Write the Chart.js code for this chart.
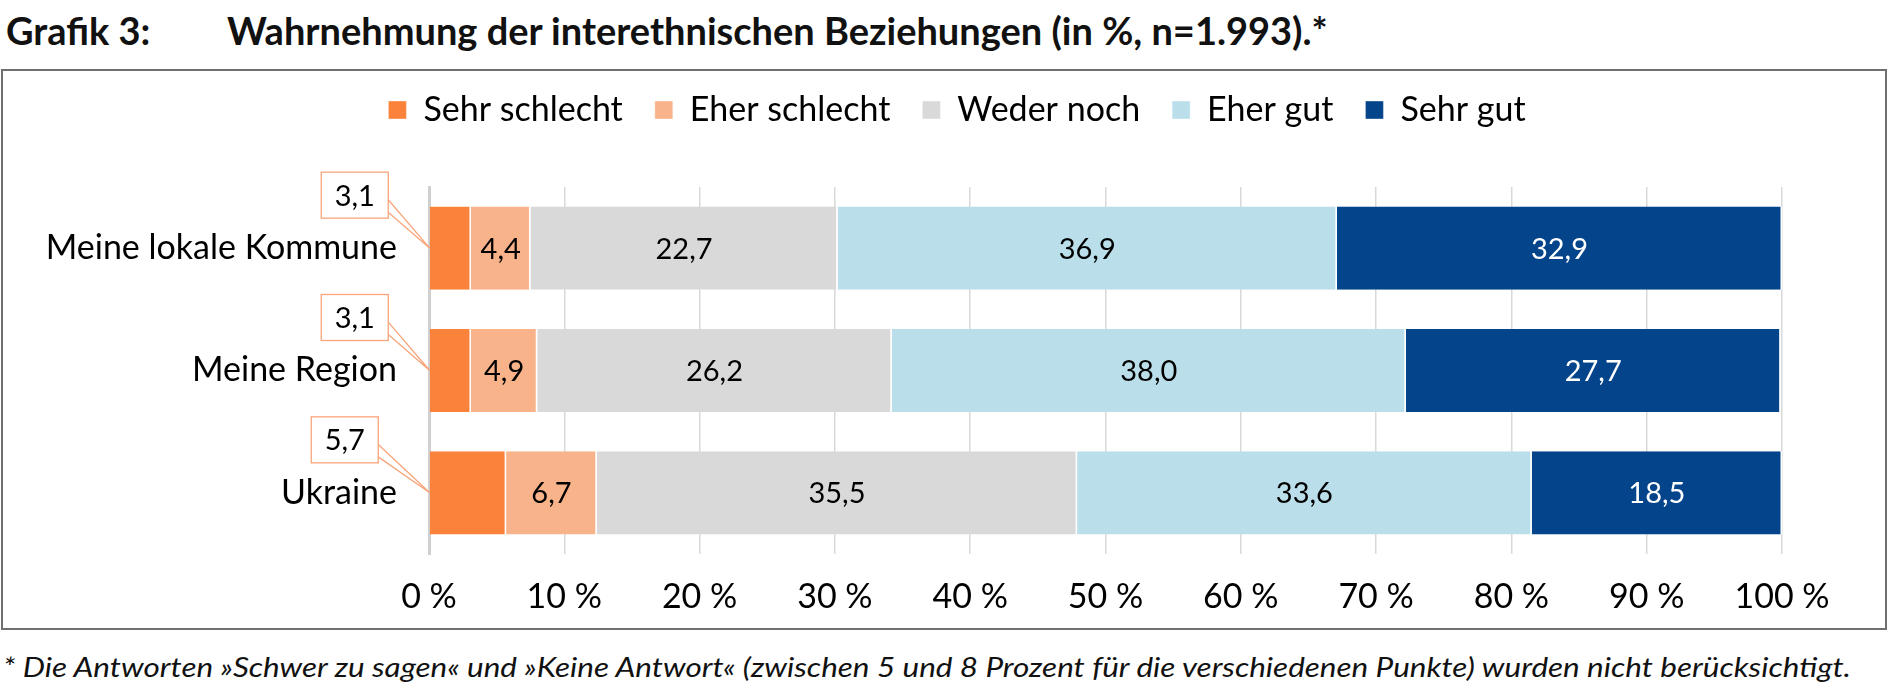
<!DOCTYPE html>
<html lang="de">
<head>
<meta charset="utf-8">
<title>Grafik 3</title>
<script src="https://cdn.jsdelivr.net/npm/chart.js@4.4.1/dist/chart.umd.min.js"></script>
<style>
  body { margin: 0; width: 1890px; height: 690px; background: #fff; position: relative; overflow: hidden; font-family: Lato, sans-serif; }
  .titel { position: absolute; top: 8px; font-weight: bold; font-size: 38px; line-height: 1.2; color: #111; white-space: nowrap; }
  #rahmen { position: absolute; left: 1px; top: 69px; width: 1886px; height: 561px; box-sizing: border-box; border: 2px solid #707070; }
  #chartBox { position: absolute; left: 2px; top: 70px; width: 1884px; height: 560px; }
  .fussnote { position: absolute; left: 3px; top: 651px; font-style: italic; font-size: 27px; line-height: 1.2; color: #111; white-space: nowrap; transform: scaleX(1.165); transform-origin: 0 0; }
</style>
</head>
<body>
  <div class="titel" style="left:6px">Grafik 3:</div>
  <div class="titel" style="left:227px">Wahrnehmung der interethnischen Beziehungen (in %, n=1.993).*</div>
  <div id="rahmen"></div>
  <div id="chartBox"><canvas id="chart"></canvas></div>
  <div class="fussnote">* Die Antworten »Schwer zu sagen« und »Keine Antwort« (zwischen 5 und 8 Prozent für die verschiedenen Punkte) wurden nicht berücksichtigt.</div>

<script>
// Daten
const kategorien = ["Meine lokale Kommune", "Meine Region", "Ukraine"];
const serien = ["Sehr schlecht", "Eher schlecht", "Weder noch", "Eher gut", "Sehr gut"];
const sehrSchlecht = [3.1, 3.1, 5.7];
const eherSchlecht = [4.4, 4.9, 6.7];
const wederNoch = [22.7, 26.2, 35.5];
const eherGut = [36.9, 38.0, 33.6];
const sehrGut = [32.9, 27.7, 18.5];
const xTicks = [0, 10, 20, 30, 40, 50, 60, 70, 80, 90, 100];

const farben = ["#fa823b", "#f9b38a", "#d9d9d9", "#badfea", "#04448a"];
const labelFarben = ["#000", "#000", "#000", "#000", "#fff"];
const werte = [sehrSchlecht, eherSchlecht, wederNoch, eherGut, sehrGut];

const schrift = "Lato";

function zahl(v) {
  return v.toFixed(1).replace(".", ",");
}

// Legende: Abstand nach unten und etwas nach rechts verschoben
const legendenAbstand = {
  id: "legendenAbstand",
  beforeInit(chart) {
    const fitOrig = chart.legend.fit;
    chart.legend.fit = function () {
      fitOrig.bind(chart.legend)();
      this.height += 50;
    };
  },
  afterLayout(chart) {
    chart.legend.left += 65;
    chart.legend.right += 65;
  }
};

// Werte in den Balken + Kasten fuer "Sehr schlecht"
const wertLabels = {
  id: "wertLabels",
  afterDatasetsDraw(chart) {
    const ctx = chart.ctx;
    ctx.save();
    ctx.font = "29px " + schrift;
    ctx.textAlign = "center";
    ctx.textBaseline = "middle";
    chart.data.datasets.forEach((ds, i) => {
      const meta = chart.getDatasetMeta(i);
      meta.data.forEach((bar, j) => {
        const txt = zahl(ds.data[j]);
        if (i === 0) {
          const links = Math.min(bar.x, bar.base);
          const w = 67, h = 46;
          const cx = links - 75 - (j === 2 ? 10 : 0), cy = bar.y - 53;
          const bl = cx - w / 2, bt = cy - h / 2;
          // Fuehrungslinien
          ctx.strokeStyle = "#f8a57a";
          ctx.lineWidth = 1.3;
          ctx.beginPath();
          ctx.moveTo(bl + w, bt + h * 0.6);
          ctx.lineTo(links, bar.y);
          ctx.lineTo(bl + w, bt + h * 0.87);
          ctx.stroke();
          ctx.fillStyle = "#fff";
          ctx.fillRect(bl, bt, w, h);
          ctx.strokeRect(bl, bt, w, h);
          ctx.fillStyle = "#000";
          ctx.fillText(txt, cx, cy + 1);
        } else {
          ctx.fillStyle = labelFarben[i];
          ctx.fillText(txt, (bar.x + bar.base) / 2, bar.y + 1);
        }
      });
    });
    ctx.restore();
  }
};

document.addEventListener("DOMContentLoaded", function () {
  const ctx = document.getElementById("chart").getContext("2d");

  const chart = new Chart(ctx, {
    type: "bar",
    data: {
      labels: kategorien,
      datasets: serien.map((name, i) => ({
        label: name,
        data: werte[i],
        backgroundColor: farben[i],
        borderColor: "#fff",
        borderWidth: { left: 0, right: 1.5, top: 0, bottom: 0 },
        borderSkipped: false,
        barPercentage: 0.68,
        categoryPercentage: 1
      }))
    },
    options: {
      indexAxis: "y",
      responsive: true,
      maintainAspectRatio: false,
      animation: false,
      layout: { padding: { top: -9, right: 104, bottom: 0, left: 0 } },
      plugins: {
        legend: {
          position: "top",
          labels: {
            font: { family: schrift, size: 34 },
            color: "#000",
            boxWidth: 18,
            boxHeight: 18,
            padding: 32
          }
        },
        tooltip: { enabled: false }
      },
      scales: {
        x: {
          stacked: true,
          min: 0,
          max: 100,
          afterBuildTicks(scale) {
            scale.ticks = xTicks.map((v) => ({ value: v }));
          },
          afterFit(scale) { scale.height = 76; },
          ticks: {
            callback: (v) => v + " %",
            font: { family: schrift, size: 34 },
            color: "#000",
            padding: 23,
            maxRotation: 0
          },
          grid: { color: "#d9d9d9", lineWidth: 1.5, drawTicks: false },
          border: { display: false }
        },
        y: {
          stacked: true,
          afterFit(scale) { scale.width = 427; },
          ticks: {
            font: { family: schrift, size: 34 },
            color: "#000",
            padding: 32
          },
          grid: { display: false, drawTicks: false },
          border: { color: "#d0d0d0", width: 3 }
        }
      }
    },
    plugins: [legendenAbstand, wertLabels]
  });
});
</script>
</body>
</html>
